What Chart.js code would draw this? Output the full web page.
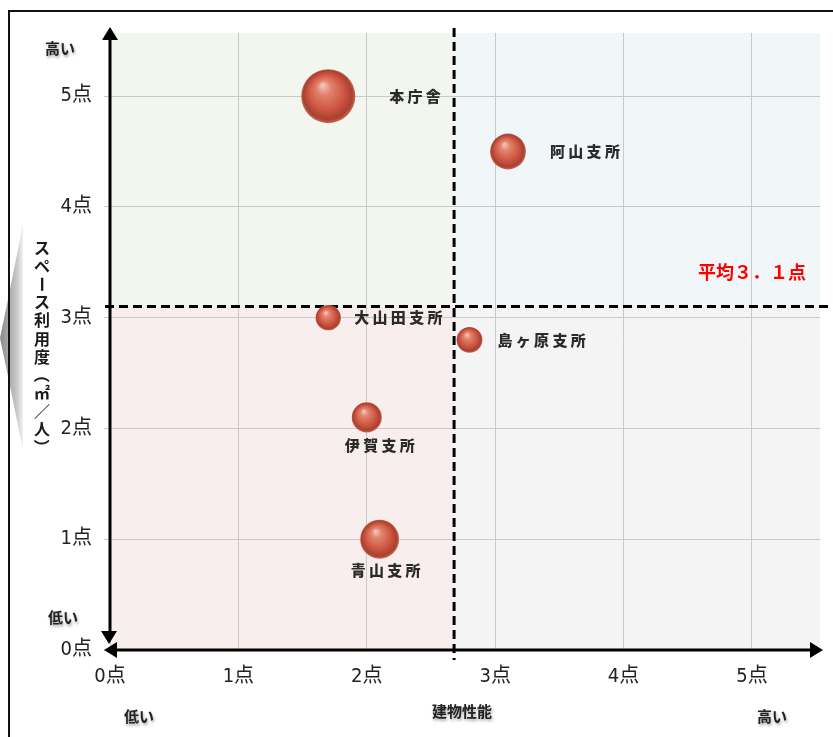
<!DOCTYPE html>
<html lang="ja">
<head>
<meta charset="utf-8">
<title>建物性能とスペース利用度</title>
<script src="https://cdn.jsdelivr.net/npm/chart.js@4.4.0/dist/chart.umd.min.js"></script>
<style>
  html, body { margin: 0; padding: 0; background: #fff; }
  #wrap { width: 833px; height: 737px; }
</style>
</head>
<body>
<div id="wrap"><canvas id="chart" width="833" height="737"></canvas></div>
<script>
// データ
const offices = ["本庁舎", "阿山支所", "大山田支所", "島ヶ原支所", "伊賀支所", "青山支所"];
const buildingScore = [1.7, 3.1, 1.7, 2.8, 2.0, 2.1];   // 建物性能 (x)
const spaceScore = [5.0, 4.5, 3.0, 2.8, 2.1, 1.0];      // スペース利用度 (y)
const bubbleSize = [100, 44, 22, 23, 31, 52];           // バブルの大きさ
const tickValues = [0, 1, 2, 3, 4, 5];
const avgBuilding = 2.68;
const avgSpace = 3.1;
const avgText = "平均３．１点";

// ラベル位置 (スタイル)
const labelPlace = ["right", "right", "right", "right", "below", "below"];
const labelDx = [61, 42, 26, 28, 13, 6];
const labelDy = [0, 0, 0, 0, 28, 31];

const MAX_R = 27;
const JP = "'Noto Sans CJK JP', sans-serif";
const NUM = "'Liberation Sans Narrow', 'DejaVu Sans Condensed', 'Noto Sans CJK JP', sans-serif";

const points = offices.map((name, i) => ({
  x: buildingScore[i],
  y: spaceScore[i],
  r: MAX_R * Math.sqrt(bubbleSize[i] / 100)
}));

function sphereFill(c) {
  if (c.type !== "data" || !c.raw) return "#c9524a";
  const chart = c.chart;
  const px = chart.scales.x ? chart.scales.x.getPixelForValue(c.raw.x) : NaN;
  const py = chart.scales.y ? chart.scales.y.getPixelForValue(c.raw.y) : NaN;
  const r = c.raw.r;
  if (!Number.isFinite(px) || !Number.isFinite(py) || !Number.isFinite(r)) return "#c9524a";
  const g = chart.ctx.createRadialGradient(px - r * 0.2, py - r * 0.4, r * 0.05, px, py, r);
  g.addColorStop(0, "#f4bfb2");
  g.addColorStop(0.22, "#e2846f");
  g.addColorStop(0.62, "#cf5843");
  g.addColorStop(0.9, "#a9402f");
  g.addColorStop(1, "#c56a58");
  return g;
}

function tri(ctx, a, b, c) {
  ctx.beginPath();
  ctx.moveTo(a[0], a[1]);
  ctx.lineTo(b[0], b[1]);
  ctx.lineTo(c[0], c[1]);
  ctx.closePath();
  ctx.fill();
}

function shadowText(ctx, text, x, y, align) {
  ctx.save();
  ctx.font = "bold 15px " + JP;
  ctx.fillStyle = "#222";
  ctx.textAlign = align || "left";
  ctx.textBaseline = "middle";
  ctx.shadowColor = "rgba(0,0,0,0.35)";
  ctx.shadowBlur = 3;
  ctx.shadowOffsetX = 1;
  ctx.shadowOffsetY = 2;
  ctx.fillText(text, x, y);
  ctx.restore();
}

const backdrop = {
  id: "backdrop",
  beforeDraw(chart) {
    const ctx = chart.ctx;
    const { left, right, top, bottom } = chart.chartArea;
    const mx = chart.scales.x.getPixelForValue(avgBuilding);
    const my = chart.scales.y.getPixelForValue(avgSpace);
    ctx.save();
    ctx.fillStyle = "#fff";
    ctx.fillRect(0, 0, chart.width, chart.height);

    // 左の灰色の矢羽
    const g = ctx.createLinearGradient(0, 0, 23, 0);
    g.addColorStop(0, "#8a8a8a");
    g.addColorStop(0.7, "#c4c4c4");
    g.addColorStop(1, "#f2f2f2");
    ctx.fillStyle = g;
    ctx.beginPath();
    ctx.moveTo(23, 224);
    ctx.quadraticCurveTo(8, 300, 0, 338);
    ctx.quadraticCurveTo(8, 376, 23, 450);
    ctx.closePath();
    ctx.fill();

    // 外枠
    ctx.strokeStyle = "#111";
    ctx.lineWidth = 2;
    ctx.strokeRect(9, 11, 830, 740);

    // 象限の背景
    ctx.fillStyle = "#f3f6ef";
    ctx.fillRect(left, top, mx - left, my - top);
    ctx.fillStyle = "#f1f7f8";
    ctx.fillRect(mx, top, right - mx, my - top);
    ctx.fillStyle = "#f9eeee";
    ctx.fillRect(left, my, mx - left, bottom - my);
    ctx.fillStyle = "#f4f4f4";
    ctx.fillRect(mx, my, right - mx, bottom - my);
    ctx.restore();
  },
  beforeDatasetsDraw(chart) {
    const ctx = chart.ctx;
    const { left, right, top, bottom } = chart.chartArea;
    const mx = chart.scales.x.getPixelForValue(avgBuilding);
    const my = chart.scales.y.getPixelForValue(avgSpace);
    ctx.save();
    ctx.strokeStyle = "#000";
    ctx.lineWidth = 3;
    ctx.setLineDash([9, 5]);
    ctx.beginPath();
    ctx.moveTo(left - 5, my);
    ctx.lineTo(chart.width, my);
    ctx.moveTo(mx, top - 5);
    ctx.lineTo(mx, bottom + 10);
    ctx.stroke();
    ctx.setLineDash([]);

    // 軸と矢印
    ctx.fillStyle = "#000";
    ctx.beginPath();
    ctx.moveTo(left, top + 6);
    ctx.lineTo(left, bottom - 12);
    ctx.moveTo(left + 6, bottom);
    ctx.lineTo(right - 6, bottom);
    ctx.stroke();
    tri(ctx, [left, top - 6], [left - 8, top + 7], [left + 8, top + 7]);
    tri(ctx, [left - 1, bottom - 6], [left - 9, bottom - 19], [left + 7, bottom - 19]);
    tri(ctx, [left - 6, bottom], [left + 7, bottom - 8], [left + 7, bottom + 8]);
    tri(ctx, [right + 3, bottom], [right - 10, bottom - 8], [right - 10, bottom + 8]);
    ctx.restore();
  },
  afterDraw(chart) {
    const ctx = chart.ctx;
    const meta = chart.getDatasetMeta(0);
    ctx.save();

    // バブルのラベル
    ctx.font = "900 15px " + JP;
    ctx.fillStyle = "#2b2b2b";
    ctx.textBaseline = "middle";
    ctx.textAlign = "center";
    const step = 18.3;
    meta.data.forEach((el, i) => {
      const chars = Array.from(offices[i]);
      let x0;
      if (labelPlace[i] === "right") {
        x0 = el.x + labelDx[i] + 7.5;
      } else {
        x0 = el.x + labelDx[i] - (chars.length - 1) * step / 2;
      }
      chars.forEach((ch, k) => ctx.fillText(ch, x0 + k * step, el.y + labelDy[i]));
    });

    // 平均
    ctx.font = "bold 18px " + JP;
    ctx.fillStyle = "#ff0000";
    ctx.textAlign = "right";
    ctx.fillText(avgText, 806, 272);

    // 縦書きの軸タイトル
    const title = Array.from("スペース利用度（㎡／人）");
    ctx.font = "bold 16px " + JP;
    ctx.fillStyle = "#1a1a1a";
    ctx.textAlign = "center";
    title.forEach((ch, k) => {
      const y = 248 + k * 18.1;
      if (ch === "ー" || ch === "（" || ch === "）") {
        ctx.save();
        ctx.translate(42, y);
        ctx.rotate(Math.PI / 2);
        ctx.fillText(ch, 0, 0);
        ctx.restore();
      } else {
        ctx.fillText(ch, 42, y);
      }
    });
    ctx.restore();

    shadowText(ctx, "高い", 45, 48);
    shadowText(ctx, "低い", 48, 617);
    shadowText(ctx, "低い", 124, 716);
    shadowText(ctx, "建物性能", 462, 711, "center");
    shadowText(ctx, "高い", 757, 716);
  }
};

new Chart(document.getElementById("chart"), {
  type: "bubble",
  data: {
    datasets: [{
      label: "庁舎",
      data: points,
      backgroundColor: sphereFill,
      borderWidth: 0,
      hoverBorderWidth: 0
    }]
  },
  options: {
    responsive: false,
    animation: false,
    devicePixelRatio: 1,
    layout: { autoPadding: false, padding: { left: 0, top: 33, right: 13, bottom: 0 } },
    plugins: {
      legend: { display: false },
      tooltip: { enabled: false }
    },
    scales: {
      x: {
        type: "linear",
        min: 0,
        max: 5.53,
        afterFit: s => { s.height = 87; s.paddingLeft = 0; s.paddingRight = 0; },
        afterBuildTicks: s => { s.ticks = tickValues.map(v => ({ value: v })); },
        border: { display: false },
        grid: { color: "#c9c9c9", lineWidth: 1, drawTicks: false },
        ticks: {
          includeBounds: false,
          maxRotation: 0,
          padding: 15,
          color: "#222",
          font: { family: NUM, size: 20 },
          callback: v => v + "点"
        }
      },
      y: {
        type: "linear",
        min: 0,
        max: 5.57,
        afterFit: s => { s.width = 110; s.paddingTop = 0; s.paddingBottom = 0; },
        afterBuildTicks: s => { s.ticks = tickValues.map(v => ({ value: v })); },
        border: { display: false },
        grid: { color: "#c9c9c9", lineWidth: 1, drawTicks: true, tickLength: 6 },
        ticks: {
          includeBounds: false,
          padding: 12,
          color: "#222",
          font: { family: NUM, size: 20 },
          callback: v => v + "点"
        }
      }
    }
  },
  plugins: [backdrop]
});
</script>
</body>
</html>
